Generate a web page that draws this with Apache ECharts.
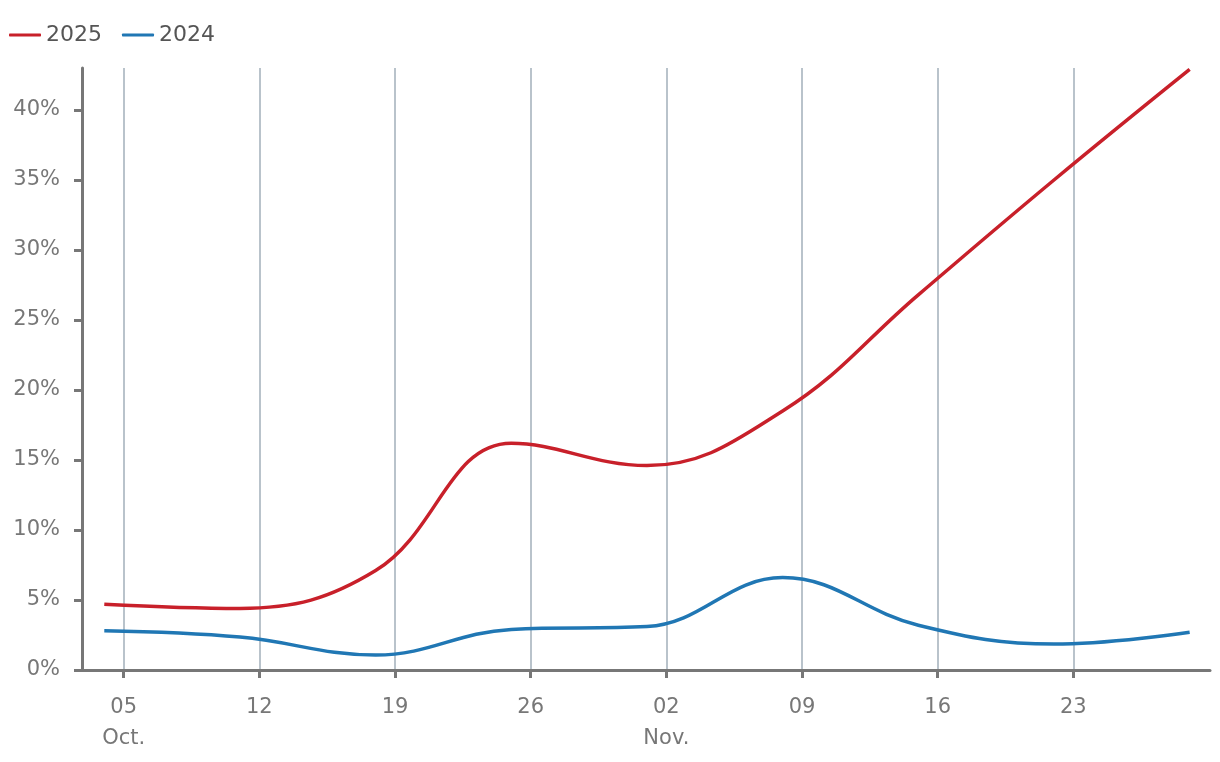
<!DOCTYPE html>
<html>
<head>
<meta charset="utf-8">
<script src="https://cdn.jsdelivr.net/npm/echarts@6/dist/echarts.min.js"></script>
<style>html,body{margin:0;padding:0;background:#fff}#c{width:1220px;height:762px}</style>
</head>
<body>
<div id="c"></div>
<script>
// x = days since 5 Oct
var days = [-1, 6, 13, 20, 27, 34, 41, 48, 55];
var s2025 = [4.7, 4.4, 7.1, 16.2, 14.6, 18.5, 26.8, 35.0, 42.9];
var s2024 = [2.8, 2.35, 1.07, 2.9, 3.1, 6.6, 3.2, 1.85, 2.7];
var tickDays = [0, 7, 14, 21, 28, 35, 42, 49];
var tickLabels = ['05\nOct.', '12', '19', '26', '02\nNov.', '09', '16', '23'];
var yTicks = [0, 5, 10, 15, 20, 25, 30, 35, 40];

function pairs(v) { return days.map(function (d, i) { return [d, v[i]]; }); }
var font = '"DejaVu Sans", "Open Sans", sans-serif';
var chart = echarts.init(document.getElementById('c'));
chart.setOption({
  animation: false,
  textStyle: { fontFamily: font },
  legend: {
    left: 4, top: 19, itemGap: 20, itemWidth: 32, itemHeight: 3,
    icon: 'roundRect',
    textStyle: { fontSize: 22, color: '#555', fontFamily: font },
    data: ['2025', '2024']
  },
  grid: { left: 82, right: 10, top: 68, bottom: 92, containLabel: false },
  xAxis: {
    type: 'value', min: -2.15, max: 56.05,
    axisLine: { show: true, onZero: false, lineStyle: { color: '#777', width: 3 } },
    axisTick: { show: true, customValues: tickDays, length: 8, lineStyle: { color: '#777', width: 3 } },
    axisLabel: {
      customValues: tickDays, color: '#777', fontSize: 21, lineHeight: 31, margin: 22,
      formatter: function (v) { var i = tickDays.indexOf(v); return i >= 0 ? tickLabels[i] : ''; }
    },
    splitLine: { show: true, lineStyle: { color: '#b9c3cb', width: 2 } }
  },
  yAxis: {
    type: 'value', min: 0, max: 43,
    axisLine: { show: true, onZero: false, lineStyle: { color: '#777', width: 3 } },
    axisTick: { show: true, customValues: yTicks, length: 8, lineStyle: { color: '#777', width: 3 } },
    axisLabel: { customValues: yTicks, color: '#777', fontSize: 21, margin: 22, formatter: '{value}%' },
    splitLine: { show: false }
  },
  series: [
    { name: '2025', type: 'line', smooth: 0.4, showSymbol: false, data: pairs(s2025),
      itemStyle: { color: '#c8202a' }, lineStyle: { color: '#c8202a', width: 3.5 } },
    { name: '2024', type: 'line', smooth: 0.4, showSymbol: false, data: pairs(s2024),
      itemStyle: { color: '#2077b4' }, lineStyle: { color: '#2077b4', width: 3.5 } }
  ]
});
</script>
</body>
</html>
